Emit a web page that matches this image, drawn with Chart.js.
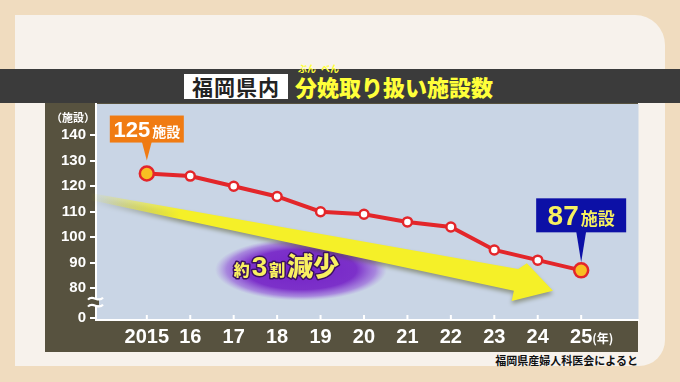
<!DOCTYPE html>
<html>
<head>
<meta charset="utf-8">
<script src="https://cdn.jsdelivr.net/npm/chart.js@4/dist/chart.umd.min.js"></script>
<style>
  body { margin: 0; width: 680px; height: 382px; background: #f0dcbf; position: relative; overflow: hidden; font-family: "Noto Sans CJK JP", sans-serif; }
  #panel { position: absolute; left: 15px; top: 15px; width: 650px; height: 351px; background: #f7f2ec; border-radius: 0 30px 26px 0; }
  #titlebar { position: absolute; left: 0; top: 69px; width: 680px; height: 34px; background: #3b3b3b; }
  #pref { position: absolute; left: 184px; top: 74px; width: 104px; height: 25px; background: #fff; color: #222; font-weight: bold; font-size: 21px; line-height: 25px; text-align: center; letter-spacing: 1px; }
  #title { position: absolute; left: 295px; top: 71px; color: #ffff3a; font-weight: 900; font-size: 22px; line-height: 30px; }
  .ruby { position: absolute; top: 62px; color: #ffff3a; font-size: 9px; font-weight: bold; }
  #frame { position: absolute; left: 45px; top: 103px; width: 593px; height: 249px; background: #57523f; }
  #chart { position: absolute; left: 45px; top: 91px; }
  #source { position: absolute; right: 42px; top: 352px; color: #111; font-weight: bold; font-size: 11px; }
</style>
</head>
<body>
<div id="panel"></div>
<div id="titlebar"></div>
<div id="pref">福岡県内</div>
<div class="ruby" style="left:298px">ぶん</div>
<div class="ruby" style="left:321px">べん</div>
<div id="title">分娩取り扱い施設数</div>
<div id="frame"></div>
<canvas id="chart" width="603" height="261"></canvas>
<div id="source">福岡県産婦人科医会によると</div>
<script>
// data
const years = [2015, 2016, 2017, 2018, 2019, 2020, 2021, 2022, 2023, 2024, 2025];
const yearLabels = ["2015", "16", "17", "18", "19", "20", "21", "22", "23", "24", "25"];
const facilities = [125, 124, 120, 116, 110, 109, 106, 104, 95, 91, 87];
// broken axis: the "0" tick sits just under 80
const yTickValues = [68.3, 80, 90, 100, 110, 120, 130, 140];
const yTickLabels = ["0", "80", "90", "100", "110", "120", "130", "140"];

const jp = '"Noto Sans CJK JP", sans-serif';
const narrow = '"Liberation Sans Narrow", "Liberation Sans", sans-serif';
const last = facilities.length - 1;

// helper: value space -> canvas pixels
function P(chart, xv, yv) {
  return [chart.scales.x.getPixelForValue(xv), chart.scales.y.getPixelForValue(yv)];
}

const plotBg = {
  id: "plotBg",
  beforeDraw(chart) {
    const { ctx, chartArea: a } = chart;
    ctx.save();
    ctx.fillStyle = "#c9d5e5";
    ctx.fillRect(a.left, a.top, a.right - a.left, a.bottom - a.top);
    ctx.restore();
  },
};

const decor = {
  id: "decor",
  beforeDatasetsDraw(chart) {
    const ctx = chart.ctx;
    ctx.save();
    // purple glow ellipse
    const [ex, ey] = P(chart, 2018.55, 87.3);
    ctx.save();
    ctx.translate(ex, ey);
    ctx.scale(1, 0.36);
    const g = ctx.createRadialGradient(0, 0, 10, 0, 0, 86);
    g.addColorStop(0, "rgba(118,38,200,1)");
    g.addColorStop(0.6, "rgba(120,40,200,0.95)");
    g.addColorStop(0.85, "rgba(140,70,215,0.55)");
    g.addColorStop(1, "rgba(160,110,225,0)");
    ctx.fillStyle = g;
    ctx.beginPath();
    ctx.arc(0, 0, 86, 0, Math.PI * 2);
    ctx.fill();
    ctx.restore();

    // yellow arrow
    const pts = [
      [2013.7, 117.4], [2023.55, 87.5], [2023.75, 89.8], [2024.35, 79.0],
      [2023.4, 75.0], [2023.45, 79.0], [2013.7, 114.6],
    ].map(p => P(chart, p[0], p[1]));
    const grad = ctx.createLinearGradient(pts[0][0], 0, pts[0][0] + 90, 0);
    grad.addColorStop(0, "rgba(245,240,40,0)");
    grad.addColorStop(1, "rgba(245,240,40,1)");
    ctx.shadowColor = "rgba(70,70,20,0.45)";
    ctx.shadowOffsetY = 3;
    ctx.shadowBlur = 4;
    ctx.fillStyle = grad;
    ctx.beginPath();
    pts.forEach((p, i) => (i ? ctx.lineTo(p[0], p[1]) : ctx.moveTo(p[0], p[1])));
    ctx.closePath();
    ctx.fill();
    ctx.restore();

    // 約3割減少
    ctx.save();
    ctx.textBaseline = "alphabetic";
    ctx.lineJoin = "round";
    const parts = [["約", 16], ["3", 28], ["割", 16], ["減少", 26]];
    let [tx, ty] = P(chart, 2017.0, 84.8);
    parts.forEach(([s, size]) => {
      ctx.font = `900 ${size}px ${s === "3" ? '"Liberation Sans", sans-serif' : jp}`;
      ctx.lineWidth = 3;
      ctx.strokeStyle = "#3a1060";
      ctx.strokeText(s, tx, ty);
      ctx.fillStyle = "#f8f060";
      ctx.fillText(s, tx, ty);
      tx += ctx.measureText(s).width + 2;
    });
    ctx.restore();
  },
  afterDatasetsDraw(chart) {
    const ctx = chart.ctx;
    ctx.save();
    // callout: first year
    let [px, py] = P(chart, years[0], facilities[0]);
    drawCallout(ctx, px, py, 74, 27, 31, 13, "#f07b12", "#ffffff",
      String(facilities[0]), 22, "施設", 14);
    // callout: last year
    [px, py] = P(chart, years[last], facilities[last]);
    drawCallout(ctx, px, py, 90, 34, 38, 8, "#0c10a6", "#f6f060",
      String(facilities[last]), 28, "施設", 17);
    ctx.restore();
  },
  afterDraw(chart) {
    const { ctx, chartArea: a } = chart;
    const xs = chart.scales.x;
    ctx.save();
    // small inward x ticks
    ctx.strokeStyle = "#fff";
    ctx.lineWidth = 2;
    xs.ticks.forEach(t => {
      const x = xs.getPixelForValue(t.value);
      ctx.beginPath();
      ctx.moveTo(x, a.bottom);
      ctx.lineTo(x, a.bottom - 5);
      ctx.stroke();
    });
    // (年)
    const lx = xs.getPixelForValue(years[last]);
    ctx.fillStyle = "#fff";
    ctx.font = `bold 12px ${jp}`;
    ctx.textBaseline = "middle";
    ctx.fillText("(年)", lx + 11, a.bottom + 18);
    // (施設)
    ctx.font = `bold 11px ${jp}`;
    ctx.textAlign = "right";
    ctx.fillText("（施設）", a.left - 1, a.top + 14);
    // axis break mark
    const bx = a.left, by = chart.scales.y.getPixelForValue(74.5);
    ctx.fillStyle = "#57523f";
    ctx.fillRect(bx - 3, by - 3, 6, 6);
    ctx.strokeStyle = "#fff";
    ctx.lineWidth = 2.2;
    [-3.5, 3.5].forEach(d => {
      ctx.beginPath();
      ctx.moveTo(bx - 8, by + d + 1);
      ctx.bezierCurveTo(bx - 3, by + d - 5, bx + 2, by + d + 5, bx + 7, by + d - 1);
      ctx.stroke();
    });
    ctx.restore();
  },
};

function drawCallout(ctx, px, py, w, h, gap, tipGap, fill, color, num, numSize, unit, unitSize) {
  const bottom = py - gap, top = bottom - h, left = px - w / 2;
  ctx.fillStyle = fill;
  ctx.fillRect(left, top, w, h);
  ctx.beginPath();
  ctx.moveTo(px - 5, bottom - 1);
  ctx.lineTo(px + 5, bottom - 1);
  ctx.lineTo(px, py - tipGap);
  ctx.closePath();
  ctx.fill();
  ctx.fillStyle = color;
  ctx.textBaseline = "alphabetic";
  ctx.font = `bold ${numSize}px "Liberation Sans", sans-serif`;
  const nw = ctx.measureText(num).width;
  ctx.font = `bold ${unitSize}px ${jp}`;
  const uw = ctx.measureText(unit).width;
  let x = px - (nw + uw + 2) / 2;
  const base = top + h / 2 + numSize * 0.36;
  ctx.font = `bold ${numSize}px "Liberation Sans", sans-serif`;
  ctx.fillText(num, x, base);
  ctx.font = `bold ${unitSize}px ${jp}`;
  ctx.fillText(unit, x + nw + 2, base);
}

const ctx = document.getElementById("chart").getContext("2d");

const chart = new Chart(ctx, {
  type: "line",
  data: {
    datasets: [
      {
        data: years.map((y, i) => ({ x: y, y: facilities[i] })),
        borderColor: "#e3262a",
        borderWidth: 4,
        pointRadius: facilities.map((v, i) => (i === 0 || i === last ? 7 : 4.5)),
        pointBackgroundColor: facilities.map((v, i) => (i === 0 || i === last ? "#f8bf22" : "#ffffff")),
        pointBorderColor: "#e3262a",
        pointBorderWidth: 2.5,
        tension: 0,
      },
    ],
  },
  options: {
    responsive: false,
    animation: false,
    layout: { padding: 0 },
    plugins: { legend: { display: false }, tooltip: { enabled: false } },
    scales: {
      x: {
        type: "linear",
        min: 2013.83,
        max: 2026.32,
        afterBuildTicks: s => { s.ticks = years.map(v => ({ value: v })); },
        afterFit: s => { s.height = 32; },
        ticks: {
          color: "#fff",
          font: { family: narrow, size: 20, weight: "bold" },
          padding: 5,
          autoSkip: false,
          maxRotation: 0,
          callback: v => yearLabels[years.indexOf(v)],
        },
        grid: { display: true, drawOnChartArea: false, drawTicks: false },
        border: { color: "#fff", width: 2 },
      },
      y: {
        min: 67.5,
        max: 152.3,
        afterBuildTicks: s => { s.ticks = yTickValues.map(v => ({ value: v })); },
        afterFit: s => { s.width = 51; },
        ticks: {
          color: "#fff",
          font: { family: narrow, size: 15, weight: "bold" },
          padding: 4,
          autoSkip: false,
          callback: v => yTickLabels[yTickValues.indexOf(v)],
        },
        grid: { drawOnChartArea: false, color: "#fff", lineWidth: 2, tickLength: 6 },
        border: { color: "#fff", width: 2 },
      },
    },
  },
  plugins: [plotBg, decor],
});
</script>
</body>
</html>
